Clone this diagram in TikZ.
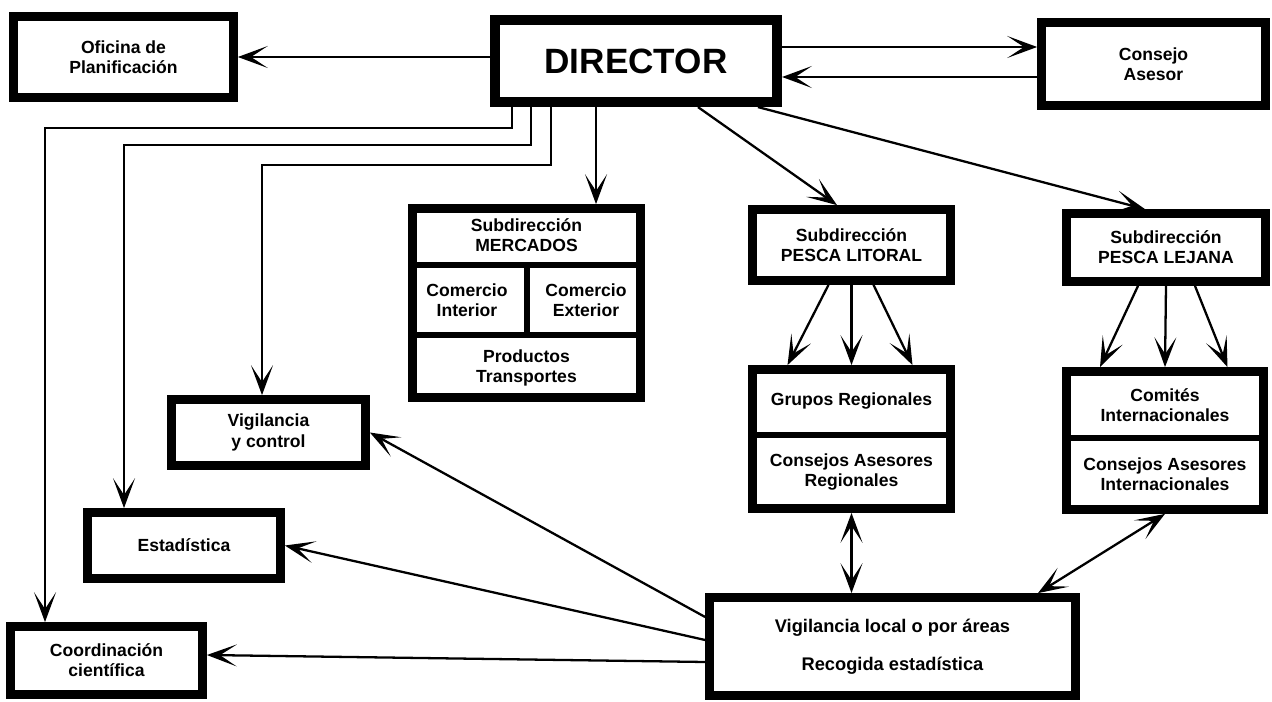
\documentclass[tikz,border=0pt]{standalone}
\usepackage{fontspec}
\setmainfont{Liberation Sans}
\usepackage{tikz}
\usetikzlibrary{arrows.meta}
\tikzset{
  caja/.style = {draw=black, line width=5pt, rectangle, align=center,
    inner sep=0pt, font=\bfseries\fontsize{10}{11.5}\selectfont},% caja de borde grueso
  caja_dir/.style = {caja, line width=5.5pt,
    font=\bfseries\fontsize{20}{24}\selectfont},% caja del director
  texto/.style = {align=center, inner sep=0pt,
    font=\bfseries\fontsize{10}{11.5}\selectfont},% texto dentro de cajas partidas
  divisor/.style = {line width=3.5pt},% lineas interiores
  punta/.tip = {Stealth[length=17pt, width=12.5pt, inset=9.5pt]},
  flecha/.style = {line width=1.3pt, -punta},
  flecha_d/.style = {line width=1.3pt, punta-punta}
}

\begin{document}
\begin{tikzpicture}[x=0.02cm, y=-0.02cm]
  \useasboundingbox (0,0) rectangle (1272,702);

  % fila de arriba
  \node [caja_dir, minimum width=5.65cm, minimum height=1.65cm] (dir) at (636,61) {DIRECTOR};
  \node [caja, minimum width=4.40cm, minimum height=1.62cm] (ofi) at (123.5,57) {Oficina de\\Planificación};
  \node [caja, minimum width=4.48cm, minimum height=1.66cm] (con) at (1153.5,64) {Consejo\\Asesor};

  % subdirecciones
  \node [caja, minimum width=4.56cm, minimum height=3.78cm] (mer) at (526.5,303) {};
  \node [texto] (mer_t) at (526.5,235) {Subdirección\\MERCADOS};
  \node [texto] (mer_ci) at (467,300) {Comercio\\Interior};
  \node [texto] (mer_ce) at (586,300) {Comercio\\Exterior};
  \node [texto] (mer_pt) at (526.5,368) {Productos\\Transportes};
  \draw [divisor] (mer.west |- 0,265) -- (mer.east |- 0,265);
  \draw [divisor] (mer.west |- 0,335) -- (mer.east |- 0,335);
  \draw [divisor] (527,265) -- (527,335);

  \node [caja, minimum width=3.96cm, minimum height=1.42cm] (lit) at (851.5,245) {Subdirección\\PESCA LITORAL};
  \node [caja, minimum width=3.98cm, minimum height=1.36cm] (lej) at (1166,247.5) {Subdirección\\PESCA LEJANA};

  \node [caja, minimum width=3.96cm, minimum height=2.78cm] (gru) at (851.5,439) {};
  \node [texto] (gru_t) at (851.5,401) {Grupos Regionales};
  \node [texto] (gru_c) at (851.5,472) {Consejos Asesores\\Regionales};
  \draw [divisor] (gru.west |- 0,435) -- (gru.east |- 0,435);

  \node [caja, minimum width=3.94cm, minimum height=2.76cm] (com) at (1165,440.5) {};
  \node [texto] (com_t) at (1165,405) {Comités\\Internacionales};
  \node [texto] (com_c) at (1165,474) {Consejos Asesores\\Internacionales};
  \draw [divisor] (com.west |- 0,438) -- (com.east |- 0,438);

  % servicios de la izquierda
  \node [caja, minimum width=3.88cm, minimum height=1.32cm] (vyc) at (268.5,432.5) {Vigilancia\\y control};
  \node [caja, minimum width=3.86cm, minimum height=1.32cm] (est) at (184,545.5) {Estadística};
  \node [caja, minimum width=3.84cm, minimum height=1.36cm] (coo) at (106.5,660.5) {Coordinación\\científica};

  \node [caja, minimum width=7.32cm, minimum height=1.96cm,
    font=\bfseries\fontsize{10.4}{21.5}\selectfont] (vlo) at (892.5,646.5)
    {Vigilancia local o por áreas\\Recogida estadística};

  % flechas del director
  \draw [flecha] (dir.west) ++(0,-4) coordinate (d0) -- (d0 -| ofi.east);
  \draw [flecha] (dir.east) ++(0,-14) coordinate (d1) -- (d1 -| con.west);
  \draw [flecha] (con.west) ++(0,13) coordinate (c1) -- (c1 -| dir.east);
  \draw [flecha] ([xshift=-2.48cm]dir.south) -- ++(0,21) -| ([xshift=-1.23cm]coo.north);
  \draw [flecha] ([xshift=-2.1cm]dir.south) -- ++(0,38) -| ([xshift=-1.2cm]est.north);
  \draw [flecha] ([xshift=-1.7cm]dir.south) -- ++(0,58) -| ([xshift=-0.13cm]vyc.north);
  \draw [flecha] ([xshift=-0.8cm]dir.south) -- ([xshift=-0.8cm]dir.south |- mer.north);
  \draw [flecha] ([xshift=1.24cm]dir.south) -- ([xshift=-0.29cm]lit.north);
  \draw [flecha] ([xshift=2.44cm]dir.south) -- ([xshift=-0.42cm]lej.north);

  % flechas de las subdirecciones
  \draw [flecha] ([xshift=-0.46cm]lit.south) -- ([xshift=-1.28cm]gru.north);
  \draw [flecha] (lit.south) -- (gru.north);
  \draw [flecha] ([xshift=0.44cm]lit.south) -- ([xshift=1.22cm]gru.north);
  \draw [flecha] ([xshift=-0.56cm]lej.south) -- ([xshift=-1.3cm]com.north);
  \draw [flecha] (lej.south) -- (com.north);
  \draw [flecha] ([xshift=0.58cm]lej.south) -- ([xshift=1.25cm]com.north);

  % vigilancia local
  \draw [flecha_d] (gru.south) -- (gru.south |- vlo.north);
  \draw [flecha_d] (com.south) -- ([xshift=2.91cm]vlo.north);
  \draw [flecha] ([yshift=0.59cm]vlo.west) -- (vyc.east);
  \draw [flecha] ([yshift=0.13cm]vlo.west) -- (est.east);
  \draw [flecha] ([yshift=-0.31cm]vlo.west) -- ([yshift=0.11cm]coo.east);
\end{tikzpicture}
\end{document}
